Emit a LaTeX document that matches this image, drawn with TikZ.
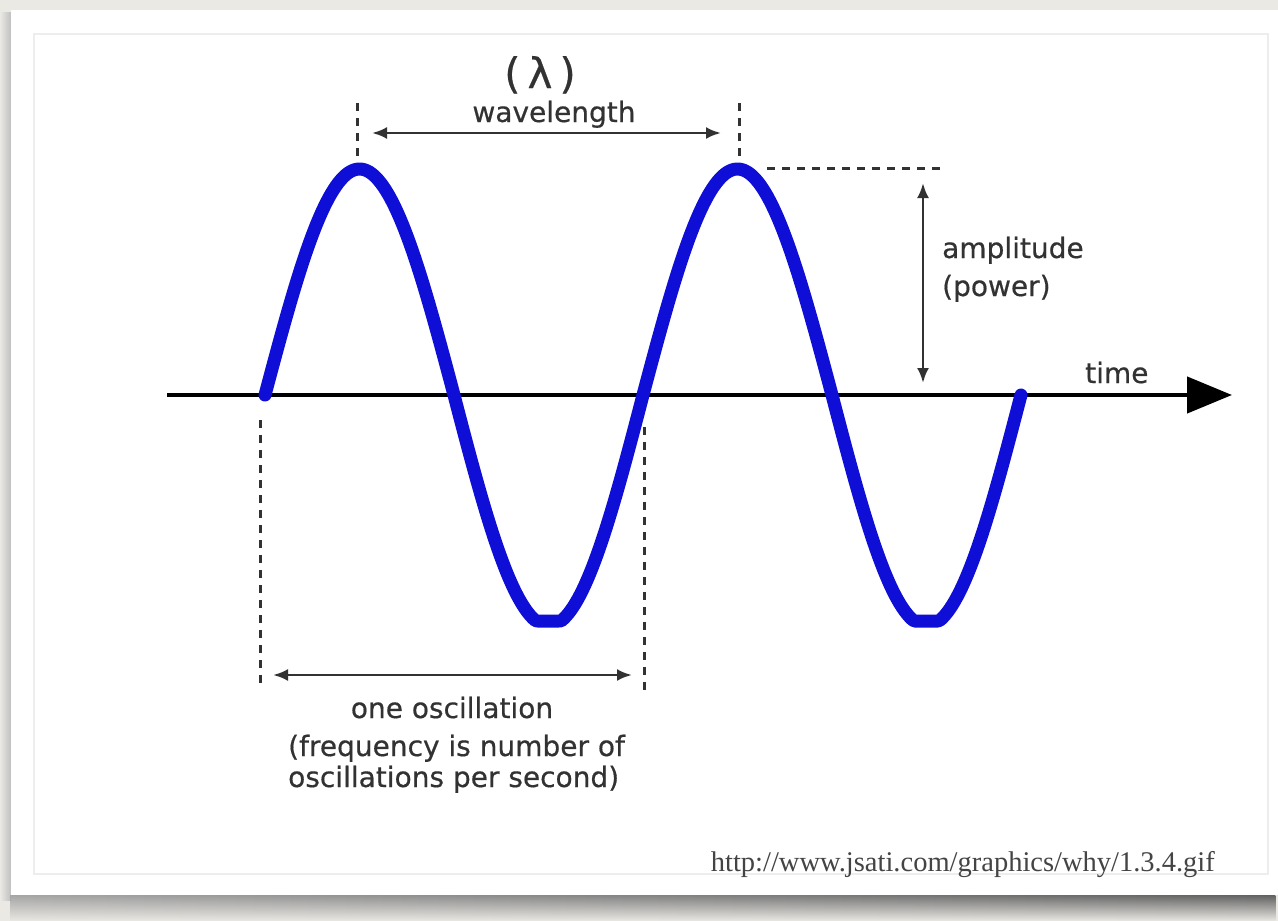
\documentclass[tikz,border=0pt]{standalone}
\usepackage{fontspec}
\setmainfont{DejaVu Sans}
\newfontfamily\lblfont[FakeBold=0.5]{DejaVu Sans}
\newfontfamily\urlfont{Liberation Serif}
\usetikzlibrary{arrows.meta,fadings}
\definecolor{bg}{RGB}{235,233,228}
\definecolor{ink}{RGB}{50,50,50}
\definecolor{wave}{RGB}{14,14,215}
\definecolor{urlgray}{RGB}{68,68,68}
\begin{document}
\begin{tikzpicture}[x=1pt,y=-1pt,
  lbl/.style={inner sep=0pt, text=ink, font=\lblfont\fontsize{28}{32}\selectfont},
  guide/.style={draw=ink, line width=3pt, dash pattern=on 8pt off 7pt},
  dimarrow/.style={draw=ink, line width=2.8pt, {Latex[length=15pt,width=12pt]}-{Latex[length=15pt,width=12pt]}},
  axisline/.style={draw=black, line width=4.5pt, -{Triangle[length=45pt,width=36pt]}},
  wavecurve/.style={draw=wave, line width=13pt, line cap=round, line join=round},
]
\useasboundingbox (0,0) rectangle (1278,921);
\fill[bg] (0,0) rectangle (1278,921);
% frame shadows
\shade[left color=bg, right color=black!25] (0,12) rectangle (11,900);
\shade[left color=black!35, right color=black!62, path fading=south] (11,895) rectangle (1278,921);
% white panel
\fill[white] (11,10) rectangle (1278,895);
\draw[black!7, line width=1.5pt] (34,34) rectangle (1268,874);

% coordinates
\coordinate (axL) at (167,395);
\coordinate (axR) at (1232,395);
\coordinate (g1t) at (357,103); \coordinate (g1b) at (357,158);
\coordinate (g2t) at (739,103); \coordinate (g2b) at (739,158);
\coordinate (hA) at (767,168); \coordinate (hB) at (942,168);
\coordinate (l1t) at (260,420); \coordinate (l1b) at (260,685);
\coordinate (l2t) at (644,427); \coordinate (l2b) at (644,690);
\coordinate (wlA) at (372,133); \coordinate (wlB) at (721,133);
\coordinate (amA) at (923,183); \coordinate (amB) at (923,383);
\coordinate (osA) at (273,675); \coordinate (osB) at (632,675);

% axis
\draw[axisline] (axL) -- (axR);
% wave
\draw[wavecurve] plot[domain=265:1021, samples=320]
  (\x, {395 - (sin(((\x-265)/378)*360)>0 ? 226*sin(((\x-265)/378)*360) : max(231*sin(((\x-265)/378)*360),-226))});

% guides
\draw[guide] (g1t) -- (g1b);
\draw[guide] (g2t) -- (g2b);
\draw[guide] (hA) -- (hB);
\draw[guide] (l1t) -- (l1b);
\draw[guide] (l2t) -- (l2b);

% dimension arrows
\draw[dimarrow] (wlA) -- (wlB);
\draw[dimarrow] (amA) -- (amB);
\draw[dimarrow] (osA) -- (osB);

% labels
\node[lbl, font=\lblfont\fontsize{42}{48}\selectfont, anchor=base] (lam) at (540,88) {(\,λ\,)};
\node[lbl, anchor=base] (wl) at (554,122) {wavelength};
\node[lbl, anchor=base west] (amp) at (942,258) {amplitude};
\node[lbl, anchor=base west] (pow) at (942,296) {(power)};
\node[lbl, anchor=base west] (time) at (1085,383) {time};
\node[lbl, anchor=base] (one) at (452,718) {one oscillation};
\node[lbl, anchor=base west] (freq) at (288,756) {(frequency is number of};
\node[lbl, anchor=base west] (osc) at (288,787) {oscillations per second)};
\node[inner sep=0pt, text=urlgray, font=\urlfont\fontsize{28.5}{32}\selectfont, anchor=base east] (url) at (1215,871) {http://www.jsati.com/graphics/why/1.3.4.gif};
\end{tikzpicture}
\end{document}
